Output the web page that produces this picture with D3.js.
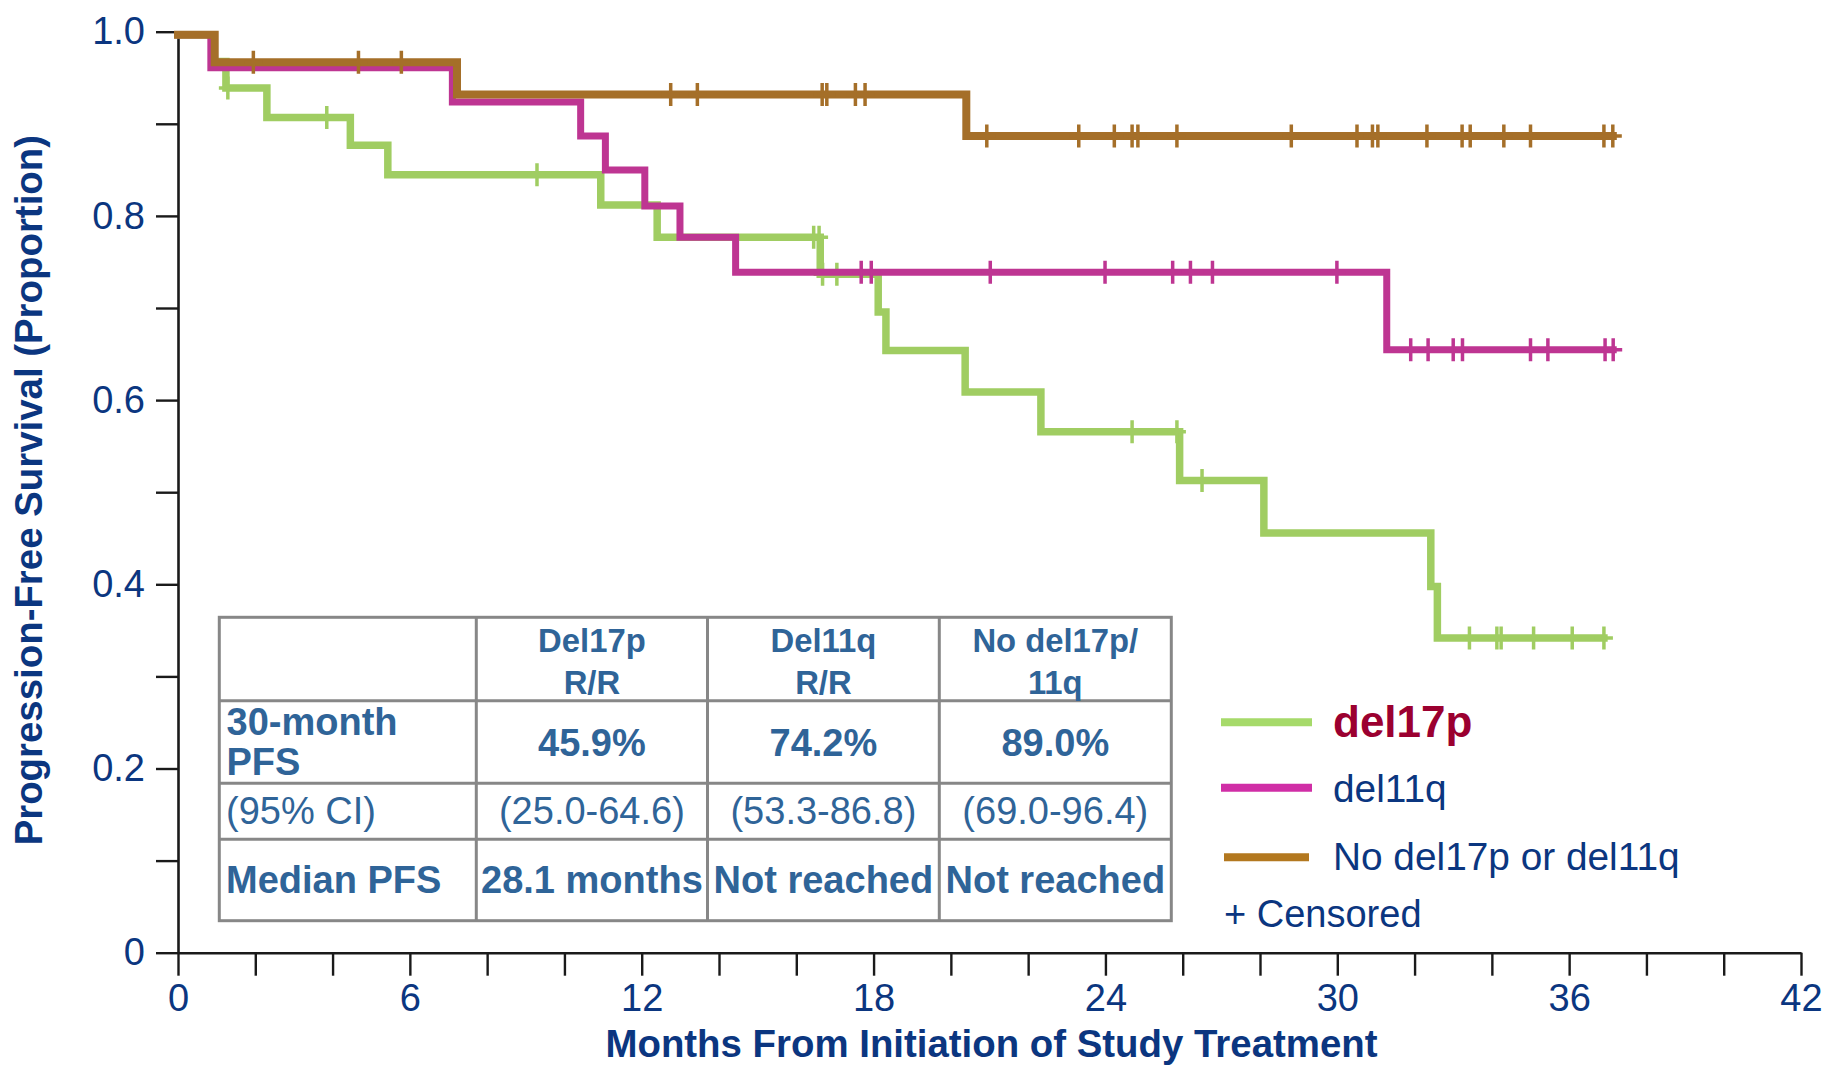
<!DOCTYPE html>
<html>
<head>
<meta charset="utf-8">
<script src="https://cdn.jsdelivr.net/npm/d3@7"></script>
<style>
  html, body { margin: 0; padding: 0; background: #fff; }
  svg { display: block; font-family: "Liberation Sans", Arial, sans-serif; }
</style>
</head>
<body>
<svg id="chart" width="1836" height="1066"></svg>
<script>
// ---- Data -------------------------------------------------------------
// Kaplan-Meier step curves: event times (months) and survival after each step
const del17pTimes = [0, 0.9, 1.24, 2.3, 4.46, 5.43, 10.94, 12.4, 16.62, 18.12, 18.32, 20.37, 22.33, 25.92, 28.1, 32.42, 32.59, 36.9];
const del17pSurv  = [1.0, 0.971, 0.942, 0.910, 0.880, 0.848, 0.815, 0.780, 0.740, 0.699, 0.657, 0.612, 0.569, 0.516, 0.459, 0.401, 0.345, 0.345];
const del17pCensor = [1.29, 3.85, 9.29, 16.45, 16.59, 16.68, 17.05, 24.69, 25.85, 26.5, 33.42, 34.13, 34.24, 35.08, 36.08, 36.9];

const del11qTimes = [0, 0.85, 7.1, 10.42, 11.06, 12.08, 12.99, 14.43, 31.28, 37.14];
const del11qSurv  = [1.0, 0.964, 0.927, 0.890, 0.853, 0.814, 0.780, 0.742, 0.658, 0.658];
const del11qCensor = [17.68, 17.94, 21.02, 23.99, 25.74, 26.2, 26.77, 29.99, 31.9, 32.35, 33.0, 33.24, 35.0, 35.45, 36.93, 37.14];

const noDelTimes = [0, 0.95, 7.22, 20.4, 37.13];
const noDelSurv  = [1.0, 0.970, 0.935, 0.890, 0.890];
const noDelCensor = [1.95, 4.67, 5.78, 12.75, 13.44, 16.67, 16.79, 17.53, 17.78, 20.93, 23.31, 24.23, 24.69, 24.84, 25.85,
                     28.81, 30.51, 30.91, 31.05, 32.32, 33.23, 33.44, 34.31, 35.0, 36.90, 37.13];

const seriesNames = ["del17p", "del11q", "No del17p or del11q"];

// Axis ticks
const xTicks = [0, 2, 4, 6, 8, 10, 12, 14, 16, 18, 20, 22, 24, 26, 28, 30, 32, 34, 36, 38, 40, 42];
const xTickLabels = [0, 6, 12, 18, 24, 30, 36, 42];
const yTicks = [0, 0.1, 0.2, 0.3, 0.4, 0.5, 0.6, 0.7, 0.8, 0.9, 1.0];
const yTickLabels = {"0": "0", "0.2": "0.2", "0.4": "0.4", "0.6": "0.6", "0.8": "0.8", "1": "1.0"};

// Summary table
const tableHeaders = [["Del17p", "R/R"], ["Del11q", "R/R"], ["No del17p/", "11q"]];
const rowLabels = [["30-month", "PFS"], ["(95% CI)"], ["Median PFS"]];
const pfs30 = ["45.9%", "74.2%", "89.0%"];
const ci95 = ["(25.0-64.6)", "(53.3-86.8)", "(69.0-96.4)"];
const medianPfs = ["28.1 months", "Not reached", "Not reached"];

// ---- Styling ----------------------------------------------------------
const navy = "#0b3680";
const tableBlue = "#2f6498";
const curveColors = {"del17p": "#a0cd62", "del11q": "#be3592", "No del17p or del11q": "#a56f29"};
const legendColors = {"del17p": "#a6da6a", "del11q": "#d02ea6", "No del17p or del11q": "#b3781f"};

const svg = d3.select("#chart");
svg.append("rect").attr("width", 1836).attr("height", 1066).attr("fill", "#fff");

const x = d3.scaleLinear().domain([0, 42]).range([178, 1801]);
const y = d3.scaleLinear().domain([0, 1]).range([952.7, 31.7]);

// ---- Axes -------------------------------------------------------------
const yAxis = d3.axisLeft(y)
  .tickValues(yTicks)
  .tickSize(22)
  .tickSizeOuter(0)
  .tickPadding(11)
  .tickFormat(d => yTickLabels[String(+d.toFixed(1))] || "");
const gy = svg.append("g").attr("transform", `translate(${x(0)},0)`).call(yAxis);

const xAxis = d3.axisBottom(x)
  .tickValues(xTicks)
  .tickSize(23)
  .tickSizeOuter(0)
  .tickPadding(8.5)
  .tickFormat(d => xTickLabels.includes(d) ? String(d) : "");
const gx = svg.append("g").attr("transform", `translate(0,${y(0)})`).call(xAxis);

[gx, gy].forEach(g => {
  g.select(".domain").attr("stroke", "#1a1a1a").attr("stroke-width", 2.6);
  g.selectAll(".tick line").attr("stroke", "#1a1a1a").attr("stroke-width", 2.4);
  g.selectAll(".tick text")
    .attr("fill", navy)
    .attr("font-size", 38)
    .attr("font-family", "'Liberation Sans', Arial, sans-serif");
});

// Axis titles
svg.append("text")
  .attr("x", (x(0) + x(42)) / 2 + 2)
  .attr("y", 1057)
  .attr("text-anchor", "middle")
  .attr("font-size", 38.4)
  .attr("font-weight", "bold")
  .attr("fill", navy)
  .text("Months From Initiation of Study Treatment");

svg.append("text")
  .attr("transform", `translate(42,${(y(0) + y(1)) / 2 - 2}) rotate(-90)`)
  .attr("text-anchor", "middle")
  .attr("font-size", 38.4)
  .attr("font-weight", "bold")
  .attr("fill", navy)
  .text("Progression-Free Survival (Proportion)");

// ---- Curves -----------------------------------------------------------
const series = [
  {name: seriesNames[0], times: del17pTimes, surv: del17pSurv, censor: del17pCensor, width: 7.5},
  {name: seriesNames[1], times: del11qTimes, surv: del11qSurv, censor: del11qCensor, width: 7},
  {name: seriesNames[2], times: noDelTimes, surv: noDelSurv, censor: noDelCensor, width: 8}
];

// survival value in effect at time t (right-continuous step function)
function survAt(s, t) {
  let v = s.surv[0];
  for (let i = 0; i < s.times.length; i++) {
    if (s.times[i] <= t) v = s.surv[i];
  }
  return v;
}

const stepLine = d3.line()
  .x(d => x(d[0]))
  .y(d => y(d[1]))
  .curve(d3.curveStepAfter);

// curves sit a few pixels below the axis grid, as plotted by the source software
const curves = svg.append("g").attr("transform", "translate(0,3)");
series.forEach(s => {
  const g = curves.append("g");
  const color = curveColors[s.name];
  g.append("path")
    .datum(s.times.map((t, i) => [t, s.surv[i]]))
    .attr("fill", "none")
    .attr("stroke", color)
    .attr("stroke-width", s.width)
    .attr("stroke-linejoin", "miter")
    .attr("stroke-linecap", "square")
    .attr("d", stepLine);
  g.selectAll("path.censor")
    .data(s.censor)
    .join("path")
    .attr("class", "censor")
    .attr("fill", "none")
    .attr("stroke", color)
    .attr("stroke-width", 3.5)
    .attr("d", t => {
      const cx = x(t), cy = y(survAt(s, t));
      return `M${cx},${cy - 11.5}V${cy + 11.5}M${cx - 9},${cy}H${cx + 9}`;
    });
});

// ---- Summary table ----------------------------------------------------
const colEdges = [219.3, 476.3, 707.5, 939.3, 1171.3];
const rowEdges = [617.3, 700.7, 783.3, 839.3, 920.7];
const tbl = svg.append("g");
tbl.append("rect")
  .attr("x", colEdges[0]).attr("y", rowEdges[0])
  .attr("width", colEdges[4] - colEdges[0]).attr("height", rowEdges[4] - rowEdges[0])
  .attr("fill", "#fff").attr("stroke", "#878787").attr("stroke-width", 3);
colEdges.slice(1, 4).forEach(cx => tbl.append("line")
  .attr("x1", cx).attr("x2", cx).attr("y1", rowEdges[0]).attr("y2", rowEdges[4])
  .attr("stroke", "#878787").attr("stroke-width", 3));
rowEdges.slice(1, 4).forEach(ry => tbl.append("line")
  .attr("x1", colEdges[0]).attr("x2", colEdges[4]).attr("y1", ry).attr("y2", ry)
  .attr("stroke", "#878787").attr("stroke-width", 3));

const colCenter = i => (colEdges[i + 1] + colEdges[i + 2]) / 2;
function cellText(tx, ty, str, opts) {
  tbl.append("text")
    .attr("x", tx).attr("y", ty)
    .attr("text-anchor", opts.anchor || "middle")
    .attr("font-size", opts.size)
    .attr("font-weight", opts.bold ? "bold" : "normal")
    .attr("fill", tableBlue)
    .text(str);
}
tableHeaders.forEach((h, i) => {
  cellText(colCenter(i), 651.7, h[0], {size: 32.8, bold: true});
  cellText(colCenter(i), 694, h[1], {size: 32.8, bold: true});
});
cellText(226.5, 735, rowLabels[0][0], {size: 38, bold: true, anchor: "start"});
cellText(226.5, 775, rowLabels[0][1], {size: 38, bold: true, anchor: "start"});
cellText(226, 824.3, rowLabels[1][0], {size: 38, anchor: "start"});
cellText(226, 893.3, rowLabels[2][0], {size: 38, bold: true, anchor: "start"});
pfs30.forEach((v, i) => cellText(colCenter(i), 755.7, v, {size: 38, bold: true}));
ci95.forEach((v, i) => cellText(colCenter(i), 824.3, v, {size: 38}));
medianPfs.forEach((v, i) => cellText(colCenter(i), 893.3, v, {size: 38, bold: true}));

// ---- Legend -----------------------------------------------------------
const legend = svg.append("g");
const legendRows = [
  {name: seriesNames[0], y: 722.3, baseline: 736.7, size: 44, bold: true, fill: "#9b0030", x1: 1221, x2: 1312},
  {name: seriesNames[1], y: 787.7, baseline: 801.7, size: 38.8, bold: false, fill: navy, x1: 1221, x2: 1312},
  {name: seriesNames[2], y: 857.3, baseline: 870, size: 38.8, bold: false, fill: navy, x1: 1224, x2: 1309}
];
legendRows.forEach(r => {
  legend.append("line")
    .attr("x1", r.x1).attr("x2", r.x2).attr("y1", r.y).attr("y2", r.y)
    .attr("stroke", legendColors[r.name]).attr("stroke-width", 8);
  legend.append("text")
    .attr("x", 1333).attr("y", r.baseline)
    .attr("font-size", r.size)
    .attr("font-weight", r.bold ? "bold" : "normal")
    .attr("fill", r.fill)
    .text(r.name);
});
legend.append("text")
  .attr("x", 1224).attr("y", 926.7)
  .attr("font-size", 38)
  .attr("fill", navy)
  .text("+ Censored");
</script>
</body>
</html>
